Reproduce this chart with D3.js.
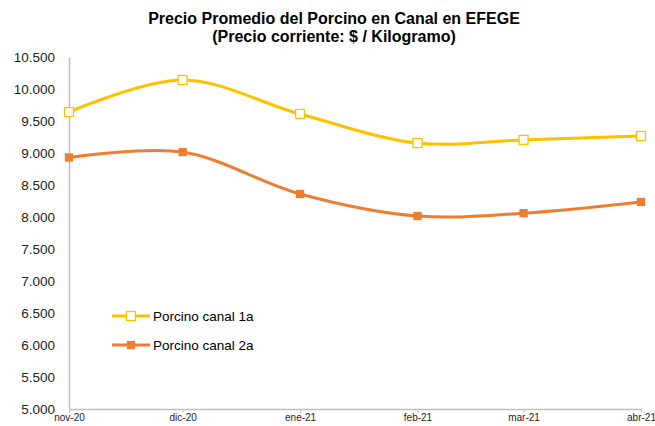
<!DOCTYPE html>
<html><head><meta charset="utf-8">
<script src="https://cdn.jsdelivr.net/npm/d3@7"></script>
<style>body{margin:0;background:#fff}svg{display:block;font-family:"Liberation Sans",Arial,sans-serif}</style>
</head><body>
<svg id="c" width="655" height="426"></svg>
<script>
const months = ["2020-11-01","2020-12-01","2021-01-01","2021-02-01","2021-03-01","2021-04-01"];
const monthLabels = ["nov-20","dic-20","ene-21","feb-21","mar-21","abr-21"];
const canal1a = [9640, 10140, 9610, 9155, 9205, 9265];
const canal2a = [8930, 9015, 8360, 8015, 8060, 8235];
const seriesNames = ["Porcino canal 1a","Porcino canal 2a"];
const yTicks = [5000,5500,6000,6500,7000,7500,8000,8500,9000,9500,10000,10500];
const titleLines = ["Precio Promedio del Porcino en Canal en EFEGE","(Precio corriente: $ / Kilogramo)"];

const svg = d3.select("#c");
const parse = d3.utcParse("%Y-%m-%d");
const dates = months.map(parse);
const x = d3.scaleUtc().domain([dates[0], dates[dates.length-1]]).range([69, 641]);
const y = d3.scaleLinear().domain([5000, 10500]).range([409, 57]);
const loc = d3.formatLocale({decimal:",", thousands:".", grouping:[3], currency:["$",""]});
const fmt = loc.format(",d");

svg.selectAll("text.title").data(titleLines).join("text")
  .attr("x", 334).attr("y", (d,i)=>24+i*18).attr("text-anchor","middle")
  .attr("font-weight","bold").attr("font-size",16).attr("fill","#000").text(d=>d);

// y axis
const ya = svg.append("g").attr("transform","translate(69,0)")
  .call(d3.axisLeft(y).tickValues(yTicks).tickFormat(fmt).tickSize(0).tickPadding(14));
ya.select(".domain").attr("stroke","#bfbfbf").attr("stroke-width",1.5);
ya.selectAll("text").attr("font-size",13.5).attr("fill","#222").attr("font-family","Liberation Sans, Arial, sans-serif");

// x axis
const xa = svg.append("g").attr("transform","translate(0,409)")
  .call(d3.axisBottom(x).tickValues(dates).tickFormat((d,i)=>monthLabels[i]).tickSizeInner(4).tickSizeOuter(0).tickPadding(1));
xa.select(".domain").attr("stroke","#bfbfbf").attr("stroke-width",1.5);
xa.selectAll(".tick line").attr("stroke","#bfbfbf");
xa.selectAll("text").attr("font-size",10).attr("fill","#222").attr("font-family","Liberation Sans, Arial, sans-serif");

const series = [
  {name:seriesNames[0], vals:canal1a, color:"#FFC000", fill:"#fff", size:9},
  {name:seriesNames[1], vals:canal2a, color:"#ED7D31", fill:"#ED7D31", size:7}
];
const line = d3.line().x((d,i)=>x(dates[i])).y(d=>y(d)).curve(d3.curveCatmullRom.alpha(0.5));
series.forEach(s=>{
  svg.append("path").attr("d", line(s.vals)).attr("fill","none").attr("stroke",s.color).attr("stroke-width",3);
  svg.selectAll(null).data(s.vals).join("rect")
    .attr("x",(d,i)=>x(dates[i])-s.size/2).attr("y",d=>y(d)-s.size/2)
    .attr("width",s.size).attr("height",s.size)
    .attr("fill",s.fill).attr("stroke",s.color).attr("stroke-width",1.3);
});

// legend
series.forEach((s,i)=>{
  const ly = 316 + i*29;
  const g = svg.append("g");
  g.append("line").attr("x1",112).attr("x2",150).attr("y1",ly).attr("y2",ly).attr("stroke",s.color).attr("stroke-width",3);
  g.append("rect").attr("x",131-s.size/2).attr("y",ly-s.size/2).attr("width",s.size).attr("height",s.size)
    .attr("fill",s.fill).attr("stroke",s.color).attr("stroke-width",1.3);
  g.append("text").attr("x",153).attr("y",ly+5).attr("font-size",13.5).attr("fill","#000").text(s.name);
});
</script>
</body></html>
